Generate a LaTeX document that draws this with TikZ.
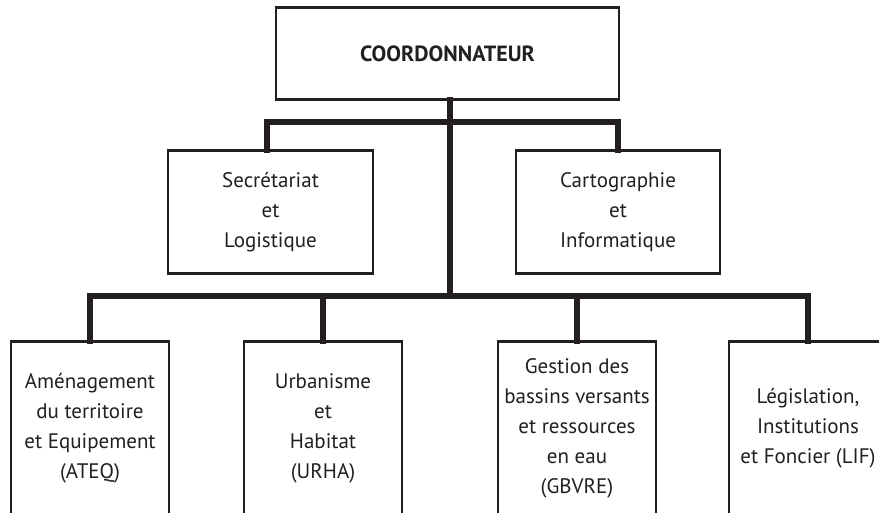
\documentclass[tikz,border=0pt]{standalone}
\usepackage{fontspec}
\setmainfont{PT Sans}
\definecolor{ink}{HTML}{231F20}
\tikzset{
  box/.style={draw=ink, line width=2.3pt, fill=white, align=center, inner sep=0pt,
    text=ink, font=\fontsize{21}{30}\selectfont},
  conn/.style={draw=ink, line width=5.5pt, line join=miter, line cap=rect},
}
\begin{document}
\begin{tikzpicture}[x=1pt,y=-1pt]
\useasboundingbox (0,0) rectangle (879,512);
\clip (0,0) rectangle (879,512);
\fill[white] (0,0) rectangle (879,512);
% junction coordinates
\coordinate (b1) at (450,122);
\coordinate (b2) at (450,296);
% nodes
\node[box, minimum width=343pt, minimum height=91pt, font=\fontsize{22}{30}\selectfont\bfseries] (coord) at (447.5,53.5) {COORDONNATEUR};
\node[box, minimum width=205pt, minimum height=122pt] (sec) at (270.5,212) {Secrétariat\\et\\Logistique};
\node[box, minimum width=204pt, minimum height=122pt] (carto) at (618,212) {Cartographie\\et\\Informatique};
\node[box, minimum width=158pt, minimum height=172pt] (ateq) at (90,428) {Aménagement\\du territoire\\et Equipement\\(ATEQ)};
\node[box, minimum width=158pt, minimum height=172pt] (urha) at (323,428) {Urbanisme\\et\\Habitat\\(URHA)};
\node[box, minimum width=158pt, minimum height=172pt] (gbvre) at (577,428) {Gestion des\\bassins versants\\et ressources\\en eau\\(GBVRE)};
\node[box, minimum width=158pt, minimum height=172pt] (lif) at (808,428) {Législation,\\Institutions\\et Foncier (LIF)};
% connectors
\draw[conn] (coord.south -| b2) -- (b2);
\draw[conn] ([xshift=-3.5pt]sec.north) |- (b1) -| (carto.north);
\draw[conn] (ateq.north) |- (b2) -| (lif.north);
\draw[conn] (urha.north) -- (urha.north |- b2);
\draw[conn] (gbvre.north) -- (gbvre.north |- b2);
% redraw box top borders over connector ends
\foreach \n in {coord,sec,carto,ateq,urha,gbvre,lif}{
  \draw[ink, line width=2.3pt] (\n.north west) -- (\n.north east);
  \draw[ink, line width=2.3pt] (\n.south west) -- (\n.south east);
}
\end{tikzpicture}
\end{document}
